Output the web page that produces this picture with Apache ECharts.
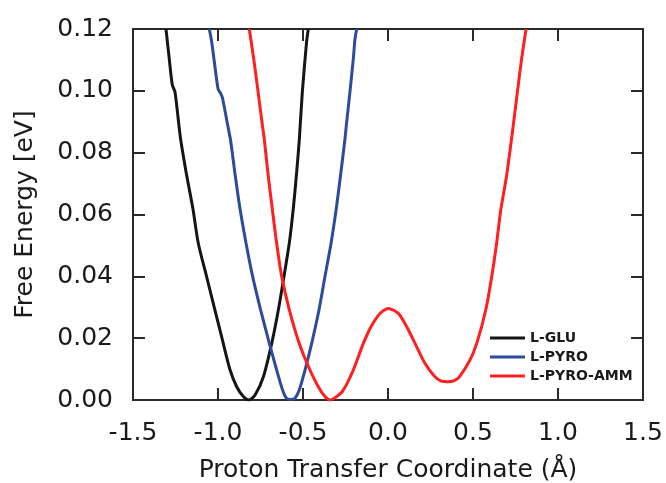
<!DOCTYPE html>
<html>
<head>
<meta charset="utf-8">
<script src="https://cdn.jsdelivr.net/npm/echarts@6/dist/echarts.min.js"></script>
<style>html,body{margin:0;padding:0;background:#fff}#c{width:666px;height:483px}</style>
</head>
<body>
<div id="c"></div>
<script>
var seriesNames = ['L-GLU', 'L-PYRO', 'L-PYRO-AMM'];
var seriesColors = ['#151515', '#2d4b9c', '#ff1f1f'];
var xTicks = [-1.5, -1.0, -0.5, 0.0, 0.5, 1.0, 1.5];
var yTicks = [0.00, 0.02, 0.04, 0.06, 0.08, 0.10, 0.12];

var glu = [[-1.306,0.120],[-1.286,0.110],[-1.269,0.102],[-1.253,0.0996],[-1.230,0.0889],[-1.219,0.084],[-1.186,0.0732],[-1.148,0.0620],[-1.116,0.0507],[-1.067,0.0399],[-1.018,0.0291],[-0.969,0.0183],[-0.929,0.0097],[-0.890,0.0043],[-0.851,0.0011],[-0.818,0.0],[-0.782,0.0016],[-0.733,0.0075],[-0.684,0.0183],[-0.645,0.0291],[-0.612,0.0399],[-0.580,0.0510],[-0.557,0.0620],[-0.538,0.0732],[-0.522,0.084],[-0.504,0.0996],[-0.479,0.1158],[-0.469,0.120]];

var pyro = [[-1.051,0.120],[-1.037,0.1158],[-1.024,0.1104],[-1.000,0.1007],[-0.988,0.0995],[-0.975,0.098],[-0.943,0.0889],[-0.926,0.084],[-0.900,0.0732],[-0.871,0.0620],[-0.835,0.0507],[-0.796,0.0399],[-0.749,0.0291],[-0.698,0.0183],[-0.655,0.0097],[-0.620,0.0032],[-0.598,0.0006],[-0.572,0.0002],[-0.547,0.0006],[-0.522,0.0032],[-0.488,0.0097],[-0.449,0.0183],[-0.406,0.0291],[-0.371,0.0399],[-0.335,0.0507],[-0.304,0.0620],[-0.278,0.0732],[-0.254,0.084],[-0.245,0.0889],[-0.224,0.0996],[-0.204,0.1104],[-0.194,0.1169],[-0.184,0.120]];

var amm = [[-0.816,0.120],[-0.790,0.1104],[-0.764,0.0996],[-0.739,0.0889],[-0.727,0.084],[-0.706,0.0732],[-0.681,0.0620],[-0.655,0.0507],[-0.625,0.0399],[-0.580,0.0291],[-0.522,0.0183],[-0.459,0.0097],[-0.410,0.0043],[-0.371,0.0011],[-0.342,0.0],[-0.305,0.0010],[-0.263,0.0032],[-0.204,0.0097],[-0.145,0.0183],[-0.100,0.0237],[-0.047,0.028],[0.002,0.0296],[0.061,0.028],[0.110,0.0237],[0.159,0.0183],[0.218,0.0118],[0.276,0.0075],[0.310,0.0062],[0.351,0.0059],[0.390,0.0063],[0.420,0.0075],[0.482,0.0129],[0.522,0.0183],[0.575,0.0291],[0.610,0.0399],[0.639,0.0507],[0.662,0.061],[0.698,0.0727],[0.737,0.0889],[0.761,0.0996],[0.786,0.1104],[0.812,0.120]];

var seriesData = [glu, pyro, amm];

var FONT = 'DejaVu Sans';
var axisLine = { show: true, onZero: false, lineStyle: { color: '#2a2a2a', width: 2 } };
var axisTick = { show: true, inside: true, length: 12, lineStyle: { color: '#2a2a2a', width: 2 } };

var chart = echarts.init(document.getElementById('c'), null, { renderer: 'canvas' });
chart.setOption({
  animation: false,
  backgroundColor: '#ffffff',
  grid: { left: 133, right: 23, top: 29, bottom: 83, containLabel: false, outerBoundsMode: 'none' },
  legend: {
    orient: 'vertical',
    left: 485, top: 326,
    icon: 'rect',
    itemWidth: 35, itemHeight: 3,
    itemGap: 5,
    data: seriesNames,
    textStyle: { fontFamily: FONT, fontWeight: 'bold', fontSize: 14, color: '#1a1a1a', padding: [0,0,0,0] }
  },
  xAxis: [{
    type: 'value', min: xTicks[0], max: xTicks[xTicks.length-1], interval: 0.5,
    position: 'bottom',
    name: 'Proton Transfer Coordinate (\u00C5)', nameLocation: 'middle', nameGap: 58,
    nameTextStyle: { fontFamily: FONT, fontSize: 25, color: '#1a1a1a' },
    axisLine: axisLine, axisTick: axisTick, splitLine: { show: false },
    axisLabel: { margin: 21, fontFamily: FONT, fontSize: 25, color: '#1a1a1a', formatter: function(v){ return v.toFixed(1); } }
  }, {
    type: 'value', min: xTicks[0], max: xTicks[xTicks.length-1], interval: 0.5,
    position: 'top',
    axisLine: axisLine, axisTick: axisTick, splitLine: { show: false }, axisLabel: { show: false }
  }],
  yAxis: [{
    type: 'value', min: yTicks[0], max: yTicks[yTicks.length-1], interval: 0.02,
    position: 'left',
    name: 'Free Energy [eV]', nameLocation: 'middle', nameGap: 95,
    nameTextStyle: { fontFamily: FONT, fontSize: 25, color: '#1a1a1a' },
    axisLine: axisLine, axisTick: axisTick, splitLine: { show: false },
    axisLabel: { margin: 20, fontFamily: FONT, fontSize: 25, color: '#1a1a1a', formatter: function(v){ return v.toFixed(2); } }
  }, {
    type: 'value', min: yTicks[0], max: yTicks[yTicks.length-1], interval: 0.02,
    position: 'right',
    axisLine: axisLine, axisTick: axisTick, splitLine: { show: false }, axisLabel: { show: false }
  }],
  series: seriesNames.map(function(n, i){
    return {
      name: n, type: 'line', data: seriesData[i],
      xAxisIndex: 0, yAxisIndex: 0,
      showSymbol: false, symbol: 'none',
      smooth: 0.25,
      clip: true,
      lineStyle: { color: seriesColors[i], width: 3 },
      itemStyle: { color: seriesColors[i] }
    };
  })
});
</script>
</body>
</html>
